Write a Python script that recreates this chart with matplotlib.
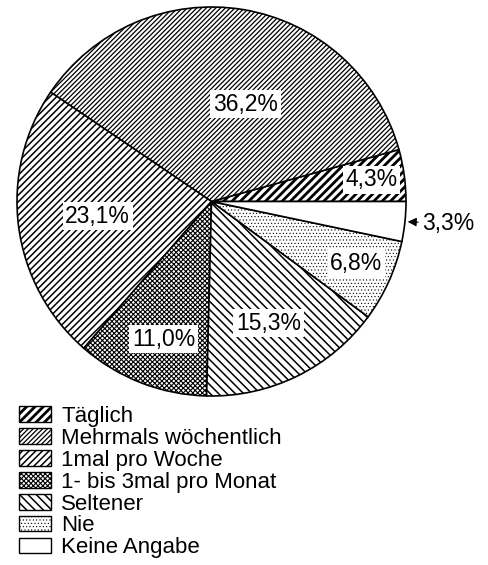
import numpy as np
import matplotlib
matplotlib.use("Agg")
import matplotlib.pyplot as plt
from matplotlib.patches import Patch

plt.rcParams['font.family'] = ['Liberation Sans', 'DejaVu Sans']

categories = ["Täglich", "Mehrmals wöchentlich", "1mal pro Woche",
              "1- bis 3mal pro Monat", "Seltener", "Nie", "Keine Angabe"]
shares = [4.3, 36.2, 23.1, 11.0, 15.3, 6.8, 3.3]
labels = ["4,3%", "36,2%", "23,1%", "11,0%", "15,3%", "6,8%", "3,3%"]

hatches = ["/" * 4, "/" * 7, "/" * 5, "x" * 7, "\\" * 4, "." * 5, ""]
hatch_lw = [2.0, 0.9, 1.1, 0.8, 1.1, 0.4, 1.0]
# radial position of each label (fraction of radius) and angle nudge in degrees
lab_r = [0.83, 0.53, 0.59, 0.75, 0.69, 0.81, 1.09]
lab_da = [0, -10, 0, 2, -1, 1, 0]

fig = plt.figure(figsize=(4.89, 5.65), dpi=100)
ax = fig.add_axes([17 / 489, (565 - 396) / 565, 389 / 489, 389 / 565])

wedges, _ = ax.pie(shares, startangle=0, counterclock=True,
                   colors=["white"] * len(shares),
                   wedgeprops=dict(edgecolor="black", linewidth=1.2))
for w, h, lw in zip(wedges, hatches, hatch_lw):
    w.set_hatch(h)
    if hasattr(w, "set_hatch_linewidth"):
        w.set_hatch_linewidth(lw)

for i, (w, lab) in enumerate(zip(wedges, labels)):
    ang = np.deg2rad((w.theta1 + w.theta2) / 2 + lab_da[i])
    x, y = lab_r[i] * np.cos(ang), lab_r[i] * np.sin(ang)
    if i == len(wedges) - 1:
        ax.annotate(lab, xy=(np.cos(ang), np.sin(ang)), xytext=(x, y),
                    fontsize=16.5, ha="left", va="center",
                    arrowprops=dict(arrowstyle="-|>", color="black",
                                    mutation_scale=13, shrinkA=1, shrinkB=2,
                                    lw=0.8))
    else:
        ax.text(x, y, lab, fontsize=16.5, ha="center", va="center",
                bbox=dict(facecolor="white", edgecolor="none", pad=2))

ax.set_xlim(-1.0, 1.0)
ax.set_ylim(-1.0, 1.0)
ax.set_aspect("equal")
ax.axis("off")

handles = [Patch(facecolor="white", edgecolor="black", hatch=h, linewidth=1.0)
           for h in hatches]

leg = fig.legend(handles, categories, loc="upper left",
                 bbox_to_anchor=(19 / 489, 1 - 406 / 565),
                 frameon=False, fontsize=16, handlelength=1.45,
                 handleheight=0.7, handletextpad=0.45, labelspacing=0.04,
                 borderaxespad=0, borderpad=0)
for p, lw in zip(leg.legend_handles, hatch_lw):
    if hasattr(p, "set_hatch_linewidth"):
        p.set_hatch_linewidth(lw)

fig.savefig("out.png", dpi=100)
